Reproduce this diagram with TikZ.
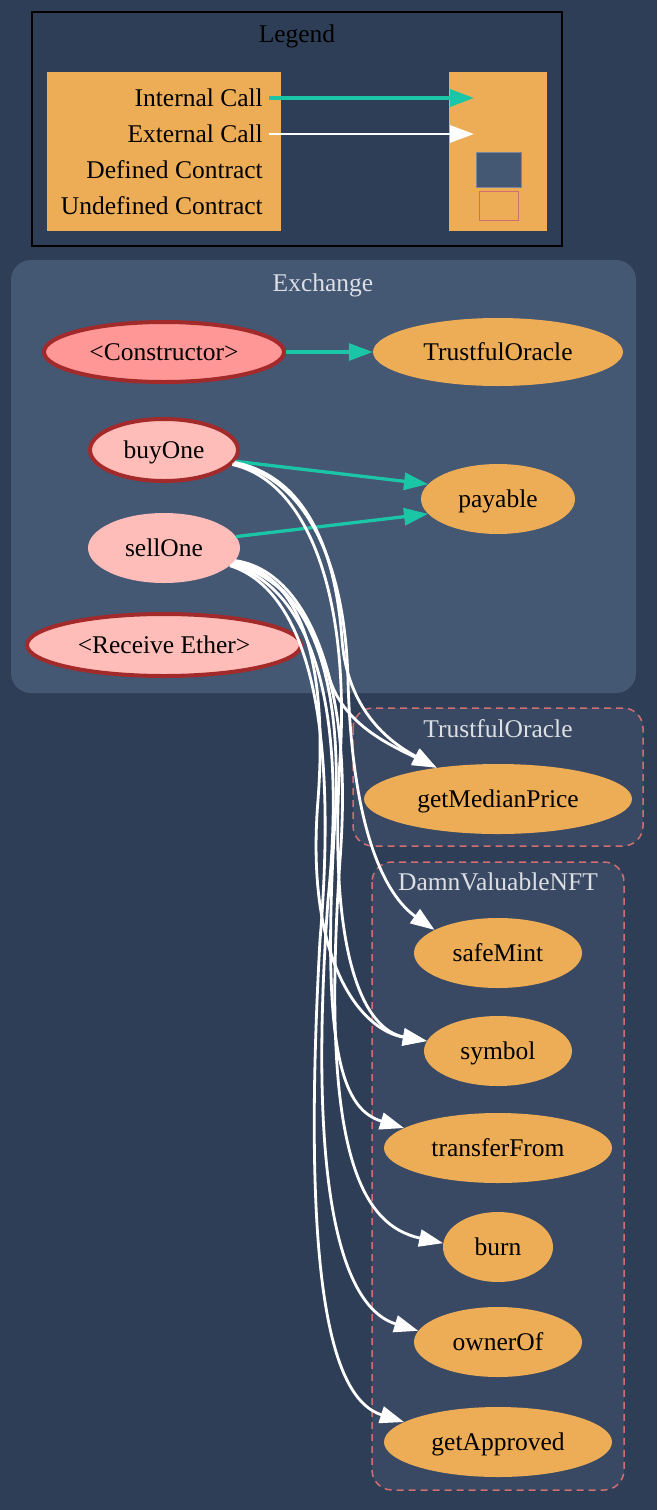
\documentclass[tikz,border=0pt]{standalone}
\usepackage{fontspec}
\setmainfont{Liberation Serif}
\usetikzlibrary{arrows.meta,shapes.geometric}
\definecolor{bgc}{HTML}{2E3E56}
\definecolor{clus}{HTML}{445773}
\definecolor{ucl}{HTML}{3A4963}
\definecolor{ubord}{HTML}{D06E72}
\definecolor{orng}{HTML}{EDAD56}
\definecolor{ctorfill}{HTML}{FF9797}
\definecolor{pubfill}{HTML}{FFBDB9}
\definecolor{redbord}{HTML}{A32A2A}
\definecolor{teal}{HTML}{1BC6A6}
\definecolor{titlec}{HTML}{DCDFE4}
\definecolor{sqbord}{HTML}{7C8696}
\begin{document}
\begin{tikzpicture}[x=1pt,y=-1pt,
  txt/.style={font=\fontsize{25.5}{30}\selectfont, inner sep=0pt, text height=17.5pt, text depth=0pt},
  fn/.style={txt, ellipse, text=black},
  ofn/.style={fn, fill=orng},
  bordered/.style={draw=redbord, line width=4pt},
  ctitle/.style={txt, text=titlec},
  intcall/.style={draw=teal, line width=3.3pt, -{Triangle[length=24pt,width=17pt]}},
  extcall/.style={draw=white, line width=2.8pt, -{Triangle[length=24pt,width=17pt]}}
]
\useasboundingbox (0,0) rectangle (657,1510);
\fill[bgc] (0,0) rectangle (657,1510);

% Legend
\node[draw=black, line width=1.5pt, fill=bgc, minimum width=530pt, minimum height=234pt, inner sep=0pt] (legend) at (297,129) {};
\node[txt, text=black] (legtitle) at (297,34) {Legend};
\node[fill=orng, minimum width=234pt, minimum height=159pt, inner sep=0pt] (legl) at (164,151.5) {};
\node[fill=orng, minimum width=98pt, minimum height=159pt, inner sep=0pt] (legr) at (498,151.5) {};
\node[txt, anchor=east] (lint) at (263,98) {Internal Call};
\node[txt, anchor=east] (lext) at (263,134) {External Call};
\node[txt, anchor=east] (ldef) at (263,170) {Defined Contract};
\node[txt, anchor=east] (lund) at (263,206) {Undefined Contract};
\coordinate (lintend) at (474,98);
\coordinate (lextend) at (474,134);
\draw[intcall] (lint.east) ++(6,0) coordinate (lints) -- (lintend);
\draw[extcall] (lext.east) ++(6,0) coordinate (lexts) -- (lextend);
\node[fill=clus, draw=sqbord, line width=1pt, minimum width=45pt, minimum height=35pt, inner sep=0pt] (sqdef) at (499,170) {};
\node[draw=ubord, line width=1.5pt, minimum width=39pt, minimum height=29pt, inner sep=0pt] (sqund) at (499,206) {};

% Exchange cluster
\fill[clus, rounded corners=20pt] (11,260) rectangle (636,693);
\node[ctitle] (exttl) at (323,283) {Exchange};

% Undefined clusters
\draw[ubord, fill=ucl, line width=1.5pt, dash pattern=on 7pt off 5pt, rounded corners=20pt] (353,708) rectangle (643,846);
\node[ctitle] (tottl) at (498,729) {TrustfulOracle};
\draw[ubord, fill=ucl, line width=1.5pt, dash pattern=on 7pt off 5pt, rounded corners=20pt] (372,862) rectangle (624,1490);
\node[ctitle] (dvttl) at (498,882) {DamnValuableNFT};

% Nodes
\node[fn, bordered, fill=ctorfill, minimum width=240pt, minimum height=60pt] (ctor) at (164,352) {<Constructor>};
\node[ofn, minimum width=250pt, minimum height=68pt] (oracle) at (498,352) {TrustfulOracle};
\node[fn, bordered, fill=pubfill, minimum width=148pt, minimum height=62pt] (buy) at (164,450) {buyOne};
\node[ofn, minimum width=154pt, minimum height=70pt] (pay) at (498,499) {payable};
\node[fn, fill=pubfill, minimum width=152pt, minimum height=70pt] (sell) at (164,548) {sellOne};
\node[fn, bordered, fill=pubfill, minimum width=274pt, minimum height=62pt] (recv) at (164,645) {<Receive Ether>};

\node[ofn, minimum width=268pt, minimum height=70pt] (gmp) at (498,799) {getMedianPrice};
\node[ofn, minimum width=168pt, minimum height=70pt] (mint) at (498,953) {safeMint};
\node[ofn, minimum width=148pt, minimum height=70pt] (sym) at (498,1051) {symbol};
\node[ofn, minimum width=228pt, minimum height=70pt] (tf) at (498,1148) {transferFrom};
\node[ofn, minimum width=110pt, minimum height=70pt] (burn) at (498,1247) {burn};
\node[ofn, minimum width=168pt, minimum height=70pt] (own) at (498,1342) {ownerOf};
\node[ofn, minimum width=228pt, minimum height=70pt] (appr) at (498,1442) {getApproved};

% Internal calls
\draw[intcall] (ctor) -- (oracle);
\draw[intcall] (buy.-9) -- (pay.168);
\draw[intcall] (sell.9) -- (pay.-168);

% External calls
\draw[extcall] (buy.-10) .. controls (300,475) and (335,540) .. (342,640) .. controls (348,715) and (395,745) .. (gmp.153);
\draw[extcall] (sell.-10) .. controls (285,568) and (315,620) .. (330,680) .. controls (345,725) and (390,745) .. (gmp.153);
\draw[extcall] (buy.-11) .. controls (305,478) and (345,560) .. (348,680) .. controls (352,830) and (385,895) .. (mint.160);
\draw[extcall] (buy.-12) .. controls (310,482) and (350,600) .. (340,760) .. controls (328,960) and (365,1030) .. (sym.172);
\draw[extcall] (sell.-11) .. controls (290,572) and (330,640) .. (318,800) .. controls (305,960) and (360,1030) .. (sym.172);
\draw[extcall] (sell.-12) .. controls (295,576) and (345,650) .. (335,820) .. controls (320,1060) and (345,1110) .. (tf.168);
\draw[extcall] (sell.-13) .. controls (300,580) and (355,660) .. (340,860) .. controls (320,1150) and (360,1225) .. (burn.176);
\draw[extcall] (sell.-14) .. controls (300,584) and (350,680) .. (328,900) .. controls (305,1220) and (350,1310) .. (own.172);
\draw[extcall] (sell.-15) .. controls (300,588) and (340,700) .. (320,940) .. controls (300,1300) and (335,1400) .. (appr.168);
\end{tikzpicture}
\end{document}
